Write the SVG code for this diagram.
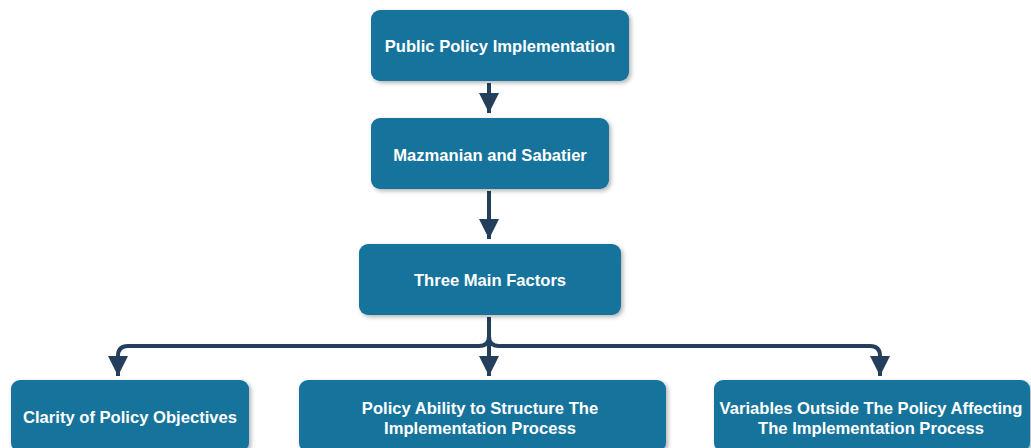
<svg xmlns="http://www.w3.org/2000/svg" width="1031" height="448" viewBox="0 0 1031 448">
<defs>
<filter id="sh" x="-10%" y="-10%" width="120%" height="130%">
<feDropShadow dx="2" dy="2" stdDeviation="2" flood-color="#000" flood-opacity="0.3"/>
</filter>
<marker id="ah" markerWidth="5" markerHeight="5" refX="5" refY="2.5" orient="auto" markerUnits="strokeWidth">
<path d="M0,0 L5,2.5 L0,5 Z" fill="#243f5c"/>
</marker>
<style>
.box{fill:#13739b;filter:url(#sh);}
.t{font-family:"Liberation Sans",Arial,sans-serif;font-weight:bold;font-size:16.6px;fill:#fff;text-anchor:middle;}
.c{fill:none;stroke:#243f5c;stroke-width:4;}
</style>
</defs>
<g id="connectors">
<path class="c" d="M489,83 L489,113" marker-end="url(#ah)"/>
<path class="c" d="M489,191 L489,239" marker-end="url(#ah)"/>
<path class="c" d="M489,317 L489,376" marker-end="url(#ah)"/>
<path class="c" d="M489,317 L489,336 Q489,346 479,346 L128,346 Q118,346 118,356 L118,376" marker-end="url(#ah)"/>
<path class="c" d="M489,317 L489,336 Q489,346 499,346 L870,346 Q880,346 880,356 L880,376" marker-end="url(#ah)"/>
</g>
<g id="n1"><rect class="box" x="371" y="10" width="258" height="71" rx="9"/><text class="t" x="500" y="52">Public Policy Implementation</text></g>
<g id="n2"><rect class="box" x="371" y="118" width="238" height="71" rx="9"/><text class="t" x="490" y="161">Mazmanian and Sabatier</text></g>
<g id="n3"><rect class="box" x="359" y="244" width="262" height="71" rx="9"/><text class="t" x="490" y="286">Three Main Factors</text></g>
<g id="n4"><rect class="box" x="11" y="380" width="238" height="72" rx="9"/><text class="t" x="130" y="423">Clarity of Policy Objectives</text></g>
<g id="n5"><rect class="box" x="299" y="380" width="367" height="72" rx="9"/><text class="t" x="480" y="414">Policy Ability to Structure The</text><text class="t" x="480" y="434">Implementation Process</text></g>
<g id="n6"><rect class="box" x="714" y="380" width="316" height="72" rx="9"/><text class="t" x="871" y="414">Variables Outside The Policy Affecting</text><text class="t" x="871" y="434">The Implementation Process</text></g>
</svg>
